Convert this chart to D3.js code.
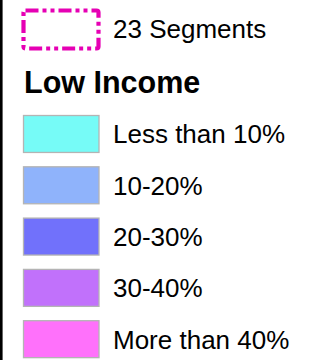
<!DOCTYPE html>
<html>
<head>
<meta charset="utf-8">
<script src="https://cdn.jsdelivr.net/npm/d3@7"></script>
<style>
  html, body { margin: 0; padding: 0; background: #fff; }
  svg { display: block; font-family: Arial, "Liberation Sans", sans-serif; }
</style>
</head>
<body>
<div id="legend"></div>
<script>
// Legend data
const segmentLabel = '23 Segments';
const legendTitle = 'Low Income';
const categories = ['Less than 10%', '10-20%', '20-30%', '30-40%', 'More than 40%'];
const colors = ['#76fbf7', '#8fb3fb', '#7171fb', '#c171fb', '#ff71fb'];

const W = 328;
const H = 360;
const step = 51.3;
const pad = 0.26;

const svg = d3.select('#legend')
  .append('svg')
  .attr('width', W)
  .attr('height', H);

// left border
svg.append('line')
  .attr('x1', 1.3).attr('x2', 1.3)
  .attr('y1', 0).attr('y2', H)
  .attr('stroke', '#000')
  .attr('stroke-width', 2.6);

// segment outline swatch
svg.append('rect')
  .attr('x', 23.5)
  .attr('y', 10.5)
  .attr('width', 75)
  .attr('height', 38)
  .attr('rx', 2)
  .attr('fill', 'none')
  .attr('stroke', '#e600b4')
  .attr('stroke-width', 4.2)
  .attr('stroke-dasharray', '13,4,4,4,4,4');

svg.append('text')
  .attr('x', 113)
  .attr('y', 37.5)
  .attr('font-size', 26)
  .attr('fill', '#000')
  .text(segmentLabel);

svg.append('text')
  .attr('x', 24)
  .attr('y', 93.3)
  .attr('font-size', 30.5)
  .attr('font-weight', 'bold')
  .attr('fill', '#000')
  .text(legendTitle);

// colour rows
const y = d3.scaleBand()
  .domain(categories)
  .range([115, 115 + step * (categories.length - pad)])
  .paddingInner(pad)
  .paddingOuter(0)
  .align(0);

const rows = svg.selectAll('g.row')
  .data(categories)
  .join('g')
  .attr('class', 'row')
  .attr('transform', d => `translate(0, ${y(d)})`);

rows.append('rect')
  .attr('x', 23.5)
  .attr('y', 0.5)
  .attr('width', 75.5)
  .attr('height', y.bandwidth() - 1)
  .attr('fill', (d, i) => colors[i])
  .attr('stroke', '#b4b4b4')
  .attr('stroke-width', 1.3);

rows.append('text')
  .attr('x', 113)
  .attr('y', y.bandwidth() / 2 + 9.4)
  .attr('font-size', 26)
  .attr('fill', '#000')
  .text(d => d);
</script>
</body>
</html>
